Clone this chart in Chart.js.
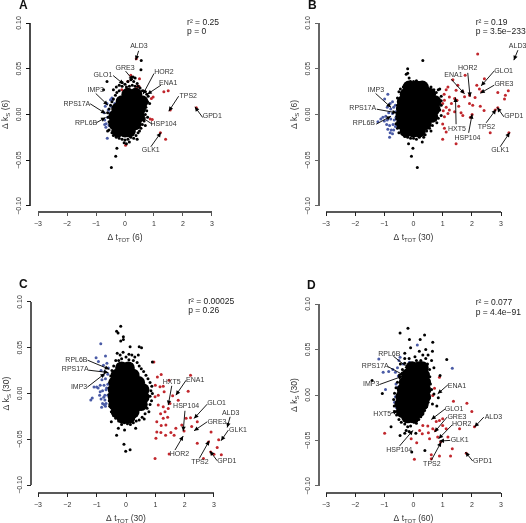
<!DOCTYPE html>
<html>
<head>
<meta charset="utf-8">
<title>Delta tTOT vs Delta kS</title>
<script src="https://cdn.jsdelivr.net/npm/chart.js@4"></script>
<style>
  html, body { margin: 0; padding: 0; background: #fff; }
  #page { position: relative; width: 526px; height: 523px; overflow: hidden; }
  canvas { position: absolute; }
</style>
</head>
<body>
<div id="page"></div>
<script>
// Axes, shared by the four panels
const xTickValues = [-3, -2, -1, 0, 1, 2, 3];
const xTickLabels = ['−3', '−2', '−1', '0', '1', '2', '3'];
const yTickValues = [-0.10, -0.05, 0, 0.05, 0.10];
const yTickLabels = ['−0.10', '−0.05', '0.00', '0.05', '0.10'];

// Panel A : t_TOT(6) / k_S(6)
const coreA = [[.1,.022],[.37,.022],[-.1,.014],[.17,.014],[.44,.014],[.58,.014],[-.25,.006],[.02,.006],[.29,.006],[.5,.006],[-.35,-.002],[-.08,-.002],[.19,-.002],[.46,-.002],[-.35,-.01],[-.08,-.01],[.19,-.01],[.35,-.01],[-.25,-.018],[0,-.018],[.15,-.018]];
const fringeA = [[-.1,.031],[0,.033],[.1,.036],[.2,.038],[.3,.036],[.35,.04],[.28,.041],[.42,.034],[.05,.03],[.15,.031],[.25,.032],[.35,.031],[.45,.031],[.52,.029],[.6,.026],[.7,.025],[.75,.022],[.8,.02],[.72,.016],[.78,.014],[.85,.012],[.72,.008],[.75,.004],[.7,0],[.78,-.003],[.66,-.007],[.6,-.011],[.7,-.012],[.55,-.015],[.5,-.018],[.45,-.02],[.38,-.023],[.3,-.026],[.42,-.027],[.2,-.025],[.1,-.027],[0,-.028],[-.1,-.027],[-.2,-.026],[-.3,-.025],[.05,-.032],[-.03,-.031],[.15,-.03],[-.4,-.023],[-.45,-.02],[-.55,-.017],[-.6,-.018],[-.5,-.012],[-.55,-.008],[-.58,-.003],[-.6,.002],[-.55,.006],[-.5,.01],[-.45,.014],[-.4,.017],[-.33,.021],[-.28,.024],[-.2,.026],[-.4,.027],[-.3,.03],[-.2,.032],[-.1,.035],[-.47,-.058],[-.32,-.0455],[-.28,-.037],[.56,.059],[.55,.049],[-.62,.036],[-.74,.027]];
const blueA = [[-.72,.002],[-.7,-.006],[-.68,.009],[-.65,-.01],[-.62,.012],[-.6,-.003],[-.58,.005],[-.55,-.012],[-.5,.016],[-.48,.009],[-.45,.018],[-.48,-.003],[-.42,.016],[-.47,.016],[-.35,.012],[-.61,-.026],[-.66,-.014],[-.45,-.013],[-.4,.006],[-.7,-.011],[-.53,.002],[-.3,.008],[.25,.022]];
const redA = [[.39,.061],[.2,.043],[.5,.039],[1.34,.025],[1.49,.026],[2.46,.0075],[1.56,.005],[1.22,-.02],[1.4,-.027],[.87,-.005],[.94,-.0055],[.02,-.0335],[.91,.0175],[.97,.019],[.41,.03],[-.11,.027],[.07,.028],[.48,.031],[.68,.01],[.64,-.004],[.1,.036]];

// Panel B : t_TOT(30) / k_S(6)
const coreB = [[-.15,.03],[.1,.03],[.3,.03],[-.25,.022],[.02,.022],[.29,.022],[.55,.022],[-.35,.014],[-.08,.014],[.19,.014],[.46,.014],[.73,.014],[-.38,.006],[-.11,.006],[.16,.006],[.43,.006],[.7,.006],[-.4,-.002],[-.13,-.002],[.14,-.002],[.41,-.002],[.62,-.002],[-.38,-.01],[-.11,-.01],[.16,-.01],[.4,-.01],[-.25,-.018],[0,-.018],[.2,-.018]];
const fringeB = [[-.35,.03],[-.25,.034],[-.15,.04],[-.2,.045],[-.2,.05],[-.25,.044],[-.1,.036],[0,.036],[.1,.037],[.2,.035],[.3,.034],[.4,.033],[.5,.029],[.6,.03],[.7,.027],[.85,.027],[.9,.028],[.78,.024],[.95,.02],[.95,.015],[.95,.01],[.9,.005],[.95,-.001],[.85,-.004],[.75,-.006],[.8,-.009],[.65,-.012],[.55,-.015],[.6,-.018],[.45,-.018],[.4,-.022],[.35,-.025],[.2,-.025],[.1,-.027],[0,-.026],[-.1,-.026],[-.2,-.025],[-.3,-.024],[-.4,-.021],[-.5,-.02],[.3,-.03],[-.55,-.015],[-.6,-.01],[-.58,-.005],[-.57,.002],[-.55,.01],[-.55,.018],[-.5,.025],[-.45,.028],[.32,.059],[.13,-.058],[-.07,-.0455],[-.02,-.037],[-.17,-.032]];
const blueB = [[-.88,.022],[-.99,.017],[-.8,.012],[-.72,.014],[-.9,.008],[-.78,.006],[-.68,.008],[-.62,.01],[-.85,.002],[-.72,.001],[-.62,.003],[-.95,-.002],[-1.05,-.003],[-1.12,-.005],[-1.22,-.008],[-.9,-.006],[-.78,-.005],[-.66,-.006],[-.92,-.011],[-.82,-.012],[-.7,-.011],[-.62,-.013],[-.88,-.016],[-.76,-.017],[-.68,-.017],[-.8,-.02],[-.72,-.021],[-.82,-.025],[-.6,-.003],[-1.0,-.007]];
const redB = [[2.2,.066],[3.49,.0605],[1.77,.043],[2.43,.039],[1.35,.038],[2.17,.032],[2.26,.028],[2.34,.025],[2.89,.024],[3.25,.026],[3.71,.0255],[3.15,.021],[3.12,.017],[1.92,.021],[2.11,.0185],[2.29,.009],[2.42,.0045],[2.89,.0075],[2.8,.005],[2.01,0],[1.95,-.003],[2.63,-.02],[3.27,-.02],[1.46,-.032],[1,-.027],[1.63,.002],[1.69,-.001],[1.06,-.015],[1.12,-.019],[1.18,.03],[1.52,.032],[1.46,.0265],[1.69,.025],[1.23,.019],[1.41,.0175],[1.49,.0155],[1.06,.0155],[1,.012],[1.12,.008],[1.23,.005],[1.41,.003],[1.06,-.0025],[1,-.0105],[1.18,.001],[1.92,.012],[2.03,.01],[1.75,.0195],[1.05,.022],[1.12,.027],[1.3,.012],[1.55,.009],[1.02,.004]];

// Panel C : t_TOT(30) / k_S(30)
const coreC = [[-.15,.028],[.08,.028],[-.3,.02],[-.03,.02],[.24,.02],[-.38,.012],[-.11,.012],[.16,.012],[.43,.012],[-.4,.004],[-.13,.004],[.14,.004],[.41,.004],[.58,.004],[-.4,-.004],[-.13,-.004],[.14,-.004],[.41,-.004],[.58,-.004],[-.38,-.012],[-.11,-.012],[.16,-.012],[.43,-.012],[.52,-.012],[-.3,-.02],[-.03,-.02],[.24,-.02],[-.1,-.026],[.1,-.026]];
const fringeC = [[-.18,.0735],[-.32,.068],[-.27,.066],[-.09,.062],[-.18,.0575],[-.09,.059],[.14,.051],[.45,.051],[.53,.05],[-.07,-.0555],[-.01,-.063],[.14,-.0615],[-.32,-.0455],[-.26,-.038],[-.05,-.04],[.33,-.038],[-.3,.044],[-.2,.042],[-.1,.045],[.1,.043],[.2,.042],[.3,.04],[.42,.042],[-.35,.036],[-.25,.036],[-.15,.038],[0,.04],[.1,.037],[.25,.036],[.38,.034],[.45,.03],[.52,.027],[.6,.024],[.68,.02],[.75,.016],[.82,.012],[.88,.008],[.85,.003],[.9,.0],[.82,-.003],[.87,-.008],[.82,-.012],[.72,-.016],[.78,-.02],[.65,-.022],[.55,-.026],[.62,-.028],[.45,-.029],[.35,-.03],[.25,-.032],[.15,-.034],[.05,-.033],[-.05,-.032],[-.15,-.034],[-.25,-.03],[-.35,-.027],[-.5,-.031],[-.42,-.024],[-.5,-.02],[-.55,-.014],[-.57,-.008],[-.58,-.001],[-.58,.006],[-.55,.012],[-.52,.019],[-.48,.025],[-.42,.03],[.9,.0345]];
const blueC = [[-.86,.0545],[-1.02,.039],[-.7,.041],[-.94,.035],[-.77,.031],[-.65,.033],[-.6,.028],[-.72,.024],[-.85,.025],[-.62,.021],[-.7,.016],[-.82,.015],[-.62,.01],[-.75,.009],[-.88,.009],[-1.09,.007],[-.95,.006],[-.68,.004],[-.8,.003],[-.62,-.002],[-.72,-.002],[-.88,.002],[-1.0,.007],[-1.2,-.007],[-1.15,-.005],[-.85,-.006],[-.72,-.007],[-.8,-.011],[-.68,-.011],[-.83,-.015],[-.7,-.014],[-.78,.02],[-.66,.006],[-.76,-.004],[-.9,-.002],[-.75,-.012]];
const redC = [[.95,.0345],[2.2,.02],[1.2,.0207],[1.07,.018],[2.12,.0025],[1.47,.0145],[1.59,-.0025],[1.78,-.0073],[1.27,.008],[1.5,-.011],[2.2,-.0265],[2.05,-.027],[2.43,-.031],[1.9,-.0345],[2.24,-.036],[1.98,-.041],[2.9,-.042],[3.16,-.0505],[3.48,-.0345],[2.81,-.053],[2.43,-.0545],[3.11,-.059],[3,-.0665],[2.64,-.071],[3.25,-.067],[3.72,-.0665],[2.89,-.064],[.99,-.071],[1.47,-.066],[1.05,-.042],[1.19,-.0425],[1.02,-.049],[1.35,-.0455],[1.53,-.0425],[1.64,-.0455],[1.7,-.038],[1.36,-.0345],[1.27,-.027],[1.18,-.022],[1.44,-.0165],[1.05,-.031],[1.27,-.0145],[1.33,-.02],[1.1,-.0127],[.99,-.0036],[1.16,.0073],[1.3,.002],[1.1,-.002],[1.42,-.026],[1.0,.009],[1.2,-.035]];

// Panel D : t_TOT(60) / k_S(30)
const coreD = [[-.05,.03],[.2,.03],[.3,.03],[-.2,.022],[.07,.022],[.34,.022],[-.28,.014],[-.01,.014],[.26,.014],[.38,.014],[-.35,.006],[-.08,.006],[.19,.006],[.38,.006],[-.4,-.002],[-.13,-.002],[.14,-.002],[.38,-.002],[-.43,-.01],[-.16,-.01],[.11,-.01],[.3,-.01],[-.38,-.018],[-.11,-.018],[.16,-.018],[-.2,-.024],[0,-.024]];
const fringeD = [[-.19,.0733],[-.46,.068],[.38,.066],[.23,.061],[-.14,.061],[.66,.058],[-1.42,.016],[-1.07,.0016],[1.14,.039],[.91,.0215],[-.06,-.0627],[.39,-.061],[-.77,-.035],[-.46,-.0445],[-.1,.052],[.2,.048],[.42,.05],[.65,.048],[-.3,.046],[.05,.042],[.32,.044],[.5,.044],[.42,.04],[.62,.038],[.7,.03],[-.3,.04],[-.15,.04],[.1,.038],[.25,.038],[-.3,.035],[-.45,.034],[-.38,.028],[-.48,.022],[-.55,.014],[-.6,.008],[-.65,.002],[-.68,-.005],[-.66,-.012],[-.64,-.018],[-.58,-.022],[-.5,-.027],[-.42,-.03],[-.3,-.032],[-.2,-.035],[-.1,-.034],[.02,-.03],[.1,-.031],[.18,-.027],[.25,-.024],[.32,-.021],[.38,-.017],[.45,-.013],[.5,-.008],[.55,-.003],[.55,.004],[.58,.012],[.56,.02],[.55,.028],[.48,.034],[.62,.006],[.7,.001],[.65,-.01],[.85,-.003],[.8,-.012],[-.3,-.042],[-.15,-.04],[-.25,-.039],[.08,-.042]];
const blueD = [[-1.19,.0397],[-.46,.0415],[.13,.055],[1.33,.0294],[-1.04,.025],[-.85,.0258],[-.71,.028],[-.96,.006],[-.5,.038],[-.14,.036],[.21,.0324],[-.54,.0086],[-.65,-.0079],[-.62,.025],[-.55,.03],[-.35,.034],[-.52,.021],[-.62,-.002],[-.58,-.014],[-.6,.012]];
const redD = [[2.09,-.035],[1.81,-.064],[1.37,-.0068],[1.83,-.009],[2,-.018],[1.58,-.037],[-.99,-.042],[.03,-.0707],[.61,-.0656],[.61,-.07],[.89,-.067],[1.27,-.067],[1.33,-.059],[.93,-.0517],[.83,-.0462],[1.18,-.0462],[1.12,-.037],[.89,-.028],[.78,-.029],[1,-.0335],[.75,-.039],[.32,-.0335],[.49,-.034],[.21,-.039],[.3,-.0426],[.11,-.0525],[-.08,-.048],[.51,-.0415],[.66,-.037],[.55,-.048],[.89,.0196],[.72,.0075],[.43,-.0024],[1,-.026],[.15,.016],[.66,-.0005],[.4,-.012],[.3,.008]];

// Callouts : nom, label x, label y, depart fleche x, y, pointe x, y (unites des axes)
const calloutsA = [
  ['ALD3', .48, .0747, .47, .0696, .37, .0594],
  ['GRE3', 0, .051, .02, .0474, .28, .0375],
  ['GLO1', -.76, .0426, -.41, .0426, -.05, .0332],
  ['HOR2', 1.34, .0459, 1, .0448, .62, .0222],
  ['ENA1', 1.49, .0339, 1.24, .0321, .77, .0222],
  ['TPS2', 2.18, .0204, 1.85, .02, 1.51, .0036],
  ['GPD1', 3.01, -.0018, 2.68, -.0033, 2.41, .0084],
  ['IMP3', -1.01, .027, -1.01, .023, -.59, .0102],
  ['RPS17A', -1.66, .0117, -1.2, .0117, -.67, .0011],
  ['RPL6B', -1.34, -.0098, -.99, -.0091, -.67, -.0033],
  ['HSP104', 1.33, -.0106, .94, -.0106, .56, -.0026],
  ['GLK1', .89, -.0393, .89, -.0353, 1.24, -.0197]
];
const calloutsB = [
  ['ALD3', 3.57, .075, 3.58, .0703, 3.44, .0594],
  ['GLO1', 3.09, .0477, 2.77, .0477, 2.32, .0313],
  ['GRE3', 3.1, .0328, 2.77, .0321, 2.29, .0233],
  ['HOR2', 1.86, .0503, 1.86, .0455, 1.94, .0193],
  ['ENA1', 1.37, .043, 1.29, .0386, 1.75, .0226],
  ['IMP3', -1.29, .027, -1.3, .023, -.77, .0077],
  ['RPS17A', -1.74, .0066, -1.26, .0058, -.57, .0018],
  ['RPL6B', -1.7, -.0098, -1.28, -.0106, -.77, -.0018],
  ['HXT5', 1.49, -.016, 1.46, -.0106, 1.44, .0186],
  ['HSP104', 1.85, -.0255, 1.89, -.02, 2.01, .0004],
  ['TPS2', 2.5, -.0142, 2.49, -.0091, 2.83, .0055],
  ['GPD1', 3.44, -.0018, 3.1, -.0026, 2.87, .0077],
  ['GLK1', 2.97, -.0393, 2.97, -.0353, 3.3, -.0197]
];
const calloutsC = [
  ['RPL6B', -1.69, .0364, -1.31, .0364, -.57, .0265],
  ['RPS17A', -1.73, .0262, -1.28, .0255, -.6, .0229],
  ['IMP3', -1.6, .0069, -1.32, .0069, -.72, .0218],
  ['HXT5', 1.56, .0127, 1.56, .0084, 1.44, -.0127],
  ['ENA1', 2.36, .0145, 2.05, .0145, 1.7, -.0018],
  ['HSP104', 2.05, -.0142, 2.01, -.0189, 1.95, -.0411],
  ['GLO1', 3.09, -.0109, 2.77, -.0116, 2.32, -.0273],
  ['ALD3', 3.57, -.0211, 3.55, -.0255, 3.45, -.0371],
  ['GRE3', 3.1, -.0316, 2.77, -.0309, 2.32, -.0407],
  ['GLK1', 3.82, -.04, 3.49, -.04, 3.24, -.0516],
  ['HOR2', 1.82, -.0665, 1.67, -.0618, 1.95, -.0465],
  ['TPS2', 2.52, -.0745, 2.5, -.0709, 2.84, -.0516],
  ['GPD1', 3.44, -.0735, 3.11, -.0735, 2.86, -.0629]
];
const calloutsD = [
  ['RPL6B', -.83, .0455, -.69, .0426, -.14, .0287],
  ['RPS17A', -1.31, .0313, -.88, .0313, -.31, .0214],
  ['IMP3', -1.45, .0122, -1.17, .0115, -.37, .0207],
  ['ENA1', 1.49, .0101, 1.18, .0112, .83, .0013],
  ['HXT5', -1.07, -.0207, -.77, -.0199, -.54, -.0177],
  ['GLO1', 1.39, -.0155, 1.09, -.0152, .61, -.0269],
  ['GRE3', 1.49, -.024, 1.15, -.0243, .72, -.0408],
  ['HOR2', 1.65, -.0316, 1.33, -.0327, .86, -.0481],
  ['GLK1', 1.58, -.0495, 1.26, -.0499, .89, -.0506],
  ['TPS2', .63, -.0762, .61, -.0718, .95, -.0517],
  ['HSP104', -.49, -.0609, -.48, -.0561, -.02, -.0389],
  ['ALD3', 2.74, -.0247, 2.41, -.0243, 2.09, -.0353],
  ['GPD1', 2.37, -.0729, 2.03, -.0726, 1.78, -.0627]
];

const FONT = '"Liberation Sans", Arial, sans-serif';
const TEXT_COLOR = '#333';

// Geometrie de chaque panneau (pixels de la page)
const panels = [
  { letter: 'A', letterX: 19, letterY: 11, left: 0, top: 0, height: 262, areaLeft: 30, areaRight: 220, areaTop: 17, areaBottom: 212, xLimit: 3.276, yLimit: .10656,
    xAxis: '#555', yAxis: '#111', xWidth: 2, yWidth: 1.5, xTitle: '(6)', yTitle: '(6)', r2: 'r² = 0.25', p: 'p = 0', statX: 2.14, statY: .1005, statY2: .0903,
    core: coreA, fringe: fringeA, blue: blueA, red: redA, callouts: calloutsA },
  { letter: 'B', letterX: 308, letterY: 11, left: 263, top: 0, height: 262, areaLeft: 56, areaRight: 245, areaTop: 17, areaBottom: 212, xLimit: 3.24, yLimit: .10656,
    xAxis: '#222', yAxis: '#666', xWidth: 1.5, yWidth: 2, xTitle: '(30)', yTitle: '(6)', r2: 'r² = 0.19', p: 'p = 3.5e−233', statX: 2.13, statY: .1005, statY2: .0903,
    core: coreB, fringe: fringeB, blue: blueB, red: redB, callouts: calloutsB },
  { letter: 'C', letterX: 19, letterY: 290, left: 0, top: 262, height: 261, areaLeft: 31, areaRight: 221, areaTop: 32, areaBottom: 231, xLimit: 3.239, yLimit: .10874,
    xAxis: '#222', yAxis: '#222', xWidth: 1.5, yWidth: 1.5, xTitle: '(30)', yTitle: '(30)', r2: 'r² = 0.00025', p: 'p = 0.26', statX: 2.12, statY: .1007, statY2: .0905,
    core: coreC, fringe: fringeC, blue: blueC, red: redC, callouts: calloutsC },
  { letter: 'D', letterX: 307, letterY: 291, left: 263, top: 262, height: 261, areaLeft: 56, areaRight: 245, areaTop: 35, areaBottom: 231, xLimit: 3.24, yLimit: .1077,
    xAxis: '#222', yAxis: '#666', xWidth: 1.5, yWidth: 2, xTitle: '(60)', yTitle: '(30)', r2: 'r² = 0.077', p: 'p = 4.4e−91', statX: 2.13, statY: .101, statY2: .0909,
    core: coreD, fringe: fringeD, blue: blueD, red: redD, callouts: calloutsD }
];

function drawArrow(ctx, x1, y1, x2, y2) {
  const angle = Math.atan2(y2 - y1, x2 - x1);
  const head = 5;
  ctx.beginPath();
  ctx.moveTo(x1, y1);
  ctx.lineTo(x2, y2);
  ctx.stroke();
  ctx.beginPath();
  ctx.moveTo(x2, y2);
  ctx.lineTo(x2 - head * Math.cos(angle - 0.45), y2 - head * Math.sin(angle - 0.45));
  ctx.lineTo(x2 - head * Math.cos(angle + 0.45), y2 - head * Math.sin(angle + 0.45));
  ctx.closePath();
  ctx.fill();
}

// Titre d'axe du type "Δ t_TOT (6)" avec indice
function drawAxisTitle(ctx, main, sub, tail) {
  const font = '8.5px ' + FONT;
  const subFont = '6px ' + FONT;
  ctx.font = font;
  const w1 = ctx.measureText(main).width;
  const w3 = ctx.measureText(tail).width;
  ctx.font = subFont;
  const w2 = ctx.measureText(sub).width;
  let x = -(w1 + w2 + w3) / 2;
  ctx.textAlign = 'left';
  ctx.textBaseline = 'middle';
  ctx.font = font;
  ctx.fillText(main, x, 0);
  x += w1;
  ctx.font = subFont;
  ctx.fillText(sub, x, 2);
  x += w2;
  ctx.font = font;
  ctx.fillText(tail, x, 0);
}

const decorPlugin = {
  id: 'decor',
  afterDraw(chart) {
    const panel = chart.config.options.panel;
    const { ctx, chartArea, scales: { x, y } } = chart;
    ctx.save();

    // Lignes d'axe decalees, limitees aux graduations (style R)
    ctx.lineCap = 'butt';
    ctx.strokeStyle = panel.xAxis;
    ctx.lineWidth = panel.xWidth;
    ctx.beginPath();
    ctx.moveTo(x.getPixelForValue(-3), chartArea.bottom);
    ctx.lineTo(x.getPixelForValue(3), chartArea.bottom);
    ctx.stroke();
    ctx.strokeStyle = panel.yAxis;
    ctx.lineWidth = panel.yWidth;
    ctx.beginPath();
    ctx.moveTo(chartArea.left, y.getPixelForValue(-0.10));
    ctx.lineTo(chartArea.left, y.getPixelForValue(0.10));
    ctx.stroke();

    // Fleches et noms de genes
    ctx.strokeStyle = '#000';
    ctx.fillStyle = '#000';
    ctx.lineWidth = 0.9;
    panel.callouts.forEach(c => {
      drawArrow(ctx, x.getPixelForValue(c[3]), y.getPixelForValue(c[4]), x.getPixelForValue(c[5]), y.getPixelForValue(c[6]));
    });
    ctx.fillStyle = TEXT_COLOR;
    ctx.font = '7px ' + FONT;
    ctx.textAlign = 'center';
    ctx.textBaseline = 'middle';
    panel.callouts.forEach(c => {
      ctx.fillText(c[0], x.getPixelForValue(c[1]), y.getPixelForValue(c[2]));
    });

    // r2 et p
    ctx.fillStyle = '#222';
    ctx.font = '8.5px ' + FONT;
    ctx.textAlign = 'left';
    ctx.fillText(panel.r2, x.getPixelForValue(panel.statX), y.getPixelForValue(panel.statY));
    ctx.fillText(panel.p, x.getPixelForValue(panel.statX), y.getPixelForValue(panel.statY2));

    // Titres d'axes
    ctx.fillStyle = TEXT_COLOR;
    ctx.save();
    ctx.translate((x.getPixelForValue(-3) + x.getPixelForValue(3)) / 2, chartArea.bottom + 26);
    drawAxisTitle(ctx, 'Δ t', 'TOT', ' ' + panel.xTitle);
    ctx.restore();
    ctx.save();
    ctx.translate(chartArea.left - 24, y.getPixelForValue(0));
    ctx.rotate(-Math.PI / 2);
    drawAxisTitle(ctx, 'Δ k', 'S', ' ' + panel.yTitle);
    ctx.restore();

    // Lettre du panneau
    ctx.fillStyle = '#111';
    ctx.font = 'bold 12px ' + FONT;
    ctx.textAlign = 'left';
    ctx.fillText(panel.letter, panel.letterX - panel.left, panel.letterY - panel.top - 5);
    ctx.restore();
  }
};

function initPanel(panel) {
  const canvas = document.createElement('canvas');
  canvas.width = 263;
  canvas.height = panel.height;
  canvas.style.left = panel.left + 'px';
  canvas.style.top = panel.top + 'px';
  document.getElementById('page').appendChild(canvas);

  const tickFont = { family: FONT, size: 7 };
  const dots = (data, color, radius) => ({ data, backgroundColor: color, borderWidth: 0, pointRadius: radius, pointHoverRadius: radius });

  new Chart(canvas, {
    type: 'scatter',
    data: {
      datasets: [
        dots(panel.core, '#000', 6.5),
        dots(panel.fringe, '#000', 1.5),
        dots(panel.blue, '#4a5ba6', 1.5),
        dots(panel.red, '#c1272d', 1.5)
      ]
    },
    plugins: [decorPlugin],
    options: {
      panel,
      responsive: false,
      animation: false,
      clip: false,
      layout: { padding: { left: 0, bottom: 0, top: panel.areaTop, right: 263 - panel.areaRight } },
      plugins: { legend: { display: false }, tooltip: { enabled: false } },
      scales: {
        x: {
          type: 'linear',
          min: -panel.xLimit,
          max: panel.xLimit,
          afterBuildTicks: scale => { scale.ticks = xTickValues.map(value => ({ value })); },
          afterFit: scale => { scale.height = panel.height - panel.areaBottom; },
          border: { display: false },
          grid: { drawOnChartArea: false, drawTicks: true, tickLength: 4, color: panel.xAxis, lineWidth: 1 },
          ticks: { autoSkip: false, maxRotation: 0, padding: 4, color: TEXT_COLOR, font: tickFont, callback: (v, i) => xTickLabels[i] }
        },
        y: {
          type: 'linear',
          min: -panel.yLimit,
          max: panel.yLimit,
          afterBuildTicks: scale => { scale.ticks = yTickValues.map(value => ({ value })); },
          afterFit: scale => { scale.width = panel.areaLeft; },
          border: { display: false },
          grid: { drawOnChartArea: false, drawTicks: true, tickLength: 4, color: panel.yAxis, lineWidth: 1 },
          ticks: { autoSkip: false, minRotation: 90, maxRotation: 90, crossAlign: 'center', padding: -2, color: TEXT_COLOR, font: tickFont, callback: (v, i) => yTickLabels[i] }
        }
      }
    }
  });
}

panels.forEach(initPanel);
</script>
</body>
</html>
